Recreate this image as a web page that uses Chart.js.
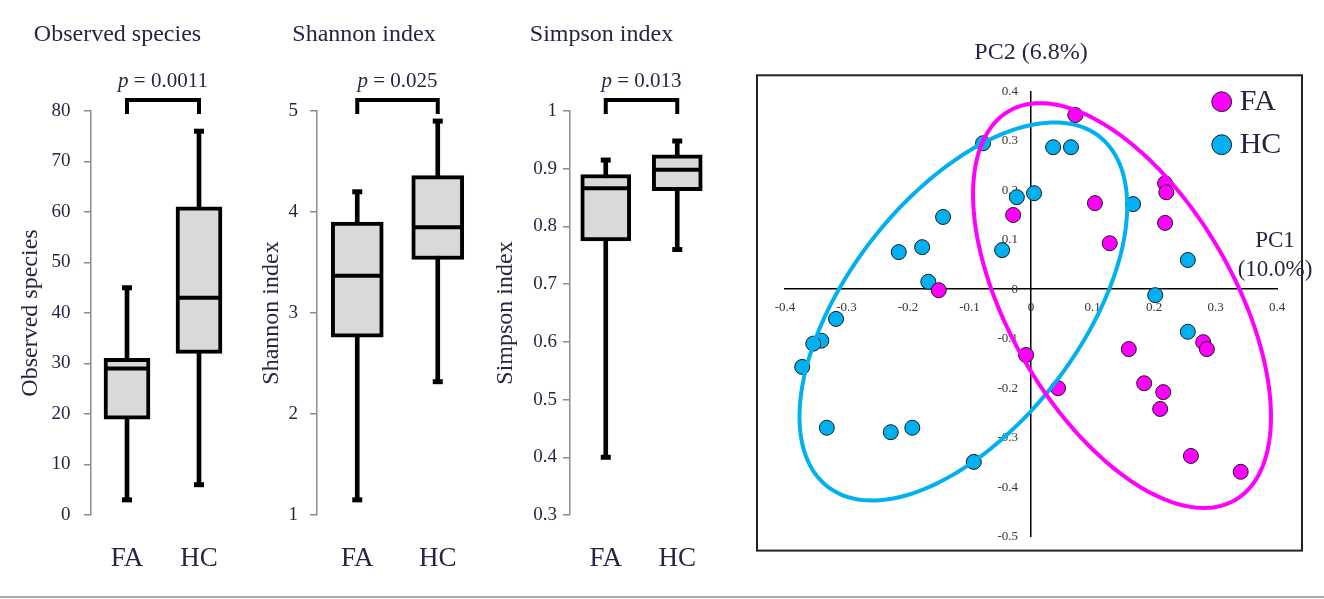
<!DOCTYPE html>
<html><head><meta charset="utf-8">
<script src="https://cdn.jsdelivr.net/npm/chart.js@4.4.1/dist/chart.umd.min.js"></script>
<style>
html,body{margin:0;padding:0;background:#fff;}
body{width:1324px;height:599px;position:relative;overflow:hidden;}
canvas{position:absolute;top:0;}
#bottomline{position:absolute;left:0;top:596px;width:1324px;height:2px;background:#a8a8a8;}
</style></head><body>
<canvas id="c1" width="320" height="599" style="left:0px;top:0px;width:320px;height:599px"></canvas>
<canvas id="c2" width="292" height="599" style="left:250px;top:0px;width:292px;height:599px"></canvas>
<canvas id="c3" width="274" height="599" style="left:490px;top:0px;width:274px;height:599px"></canvas>
<canvas id="c4" width="584" height="530" style="left:740px;top:30px;width:584px;height:530px"></canvas>
<div id="bottomline"></div>
<script>
// ---------- data ----------
const groups = ['FA', 'HC'];

const obsMin = [3, 6];
const obsQ1  = [19, 32];
const obsMed = [29, 43];
const obsQ3  = [31, 61];
const obsMax = [45, 76];

const shaMin = [1.15, 2.32];
const shaQ1  = [2.76, 3.53];
const shaMed = [3.37, 3.85];
const shaQ3  = [3.90, 4.36];
const shaMax = [4.20, 4.90];

const simMin = [0.40, 0.76];
const simQ1  = [0.775, 0.862];
const simMed = [0.866, 0.898];
const simQ3  = [0.890, 0.924];
const simMax = [0.915, 0.948];

const pValues = ['0.0011', '0.025', '0.013'];

// PCA scores
const faX = [0.072, 0.218, 0.220, 0.104, -0.029, 0.218, 0.128, -0.150, -0.008, 0.159, 0.044, 0.184, 0.215, 0.210, 0.280, 0.286, 0.260, 0.341];
const faY = [0.352, 0.214, 0.196, 0.174, 0.150, 0.134, 0.093, -0.002, -0.133, -0.121, -0.200, -0.190, -0.208, -0.242, -0.107, -0.121, -0.337, -0.369];
const hcX = [-0.078, 0.036, 0.065, -0.023, 0.005, -0.143, 0.166, -0.215, -0.177, -0.047, -0.167, 0.255, 0.202, -0.317, -0.341, -0.354, -0.372, -0.332, -0.228, -0.193, -0.093, 0.255];
const hcY = [0.295, 0.287, 0.287, 0.186, 0.194, 0.146, 0.172, 0.075, 0.085, 0.079, 0.015, 0.059, -0.012, -0.060, -0.104, -0.110, -0.157, -0.280, -0.289, -0.280, -0.349, -0.086];

// confidence ellipses: centre and two conjugate semi-axis vectors (data units)
const ellipseFA = [0.148, -0.033, 0.1841, -0.3929, -0.1574, -0.1138];
const ellipseHC = [-0.110, -0.045, 0.2208, 0.3539, 0.1491, -0.1439];

// ---------- styling ----------
const FONT = 'Liberation Serif';
const TXT = '#262644';
Chart.defaults.font.family = FONT;
const cleanNum = v => String(Number(Number(v).toFixed(2)));

function bracketPlugin(pText) {
  return {
    id: 'bracket',
    afterDraw(chart) {
      const {ctx, chartArea, scales: {x}} = chart;
      const x0 = x.getPixelForValue(0), x1 = x.getPixelForValue(1);
      const yTop = chartArea.top - 11, yLeg = chartArea.top + 3;
      ctx.save();
      ctx.strokeStyle = '#000'; ctx.lineWidth = 4; ctx.lineJoin = 'miter'; ctx.lineCap = 'butt';
      ctx.beginPath(); ctx.moveTo(x0, yLeg); ctx.lineTo(x0, yTop); ctx.lineTo(x1, yTop); ctx.lineTo(x1, yLeg); ctx.stroke();
      const ital = 'italic 21px "' + FONT + '"', norm = '21px "' + FONT + '"';
      ctx.font = ital; const wp = ctx.measureText('p').width;
      const rest = ' = ' + pText;
      ctx.font = norm; const wr = ctx.measureText(rest).width;
      const cx = (x0 + x1) / 2, sx = cx - (wp + wr) / 2, ty = chartArea.top - 29.3;
      ctx.textBaseline = 'middle'; ctx.textAlign = 'left'; ctx.fillStyle = TXT;
      ctx.font = ital; ctx.fillText('p', sx, ty);
      ctx.font = norm; ctx.fillText(rest, sx + wp, ty);
      ctx.restore();
    }
  };
}

function boxChart(id, c) {
  const pt = (data, r, bw) => ({
    type: 'line', data, showLine: false, pointStyle: 'line', pointRadius: r, pointHoverRadius: r,
    pointBorderColor: '#000', pointBorderWidth: bw, pointHoverBorderWidth: bw, order: 1
  });
  new Chart(document.getElementById(id), {
    type: 'bar',
    data: {
      labels: groups,
      datasets: [
        pt(c.med, c.box / 2 - 1, 4),
        pt(c.min, 5, 5),
        pt(c.max, 5, 5),
        {type: 'bar', data: groups.map((g, i) => [c.q1[i], c.q3[i]]), backgroundColor: '#d9d9d9', borderColor: '#000',
         borderWidth: 4, borderSkipped: false, barThickness: c.box, grouped: false, order: 2},
        {type: 'bar', data: groups.map((g, i) => [c.min[i], c.max[i]]), backgroundColor: '#000', borderWidth: 0,
         barThickness: 4, grouped: false, order: 3}
      ]
    },
    options: {
      responsive: false, animation: false, devicePixelRatio: 1,
      layout: {padding: {left: 0, right: c.padRight, top: 0, bottom: 0}},
      plugins: {
        legend: {display: false}, tooltip: {enabled: false},
        title: {display: true, text: c.title, font: {family: FONT, size: 24, weight: 'normal'}, color: TXT,
                padding: {top: 20.6, bottom: 61.6}}
      },
      scales: {
        x: {grid: {display: false, drawTicks: false}, border: {display: false},
            ticks: {font: {family: FONT, size: 27}, color: TXT, padding: 27.8},
            afterFit: s => { s.height = 84; }},
        y: {min: c.ymin, max: c.ymax,
            ticks: {stepSize: c.step, font: {family: FONT, size: 19}, color: TXT, padding: c.tickPad, callback: cleanNum},
            grid: {drawOnChartArea: false, drawTicks: true, tickLength: 7, color: '#8c8c8c', lineWidth: 1.5},
            border: {color: '#8c8c8c', width: 1.5},
            title: {display: true, text: c.title, font: {family: FONT, size: 24}, color: TXT, padding: {top: c.titlePad, bottom: 0}},
            afterFit: s => { s.width = c.axisW; }}
      }
    },
    plugins: [bracketPlugin(c.p)]
  });
}

boxChart('c1', {title: 'Observed species', min: obsMin, q1: obsQ1, med: obsMed, q3: obsQ3, max: obsMax,
  ymin: 0, ymax: 80, step: 10, box: 46, axisW: 91, padRight: 85, tickPad: 13.5, titlePad: 16.6, p: pValues[0]});
boxChart('c2', {title: 'Shannon index', min: shaMin, q1: shaQ1, med: shaMed, q3: shaQ3, max: shaMax,
  ymin: 1, ymax: 5, step: 1, box: 52, axisW: 67, padRight: 64, tickPad: 12, titlePad: 7, p: pValues[1]});
boxChart('c3', {title: 'Simpson index', min: simMin, q1: simQ1, med: simMed, q3: simQ3, max: simMax,
  ymin: 0.3, ymax: 1, step: 0.1, box: 50, axisW: 80, padRight: 51, tickPad: 6, titlePad: 1, p: pValues[2]});

// ---------- PCA ----------
const pcaPlugin = {
  id: 'pcaExtras',
  afterLayout(chart) {
    const lg = chart.legend, ca = chart.chartArea;
    lg.left = ca.left + 420.7; lg.top = ca.top - 17.6;
    lg.width = 115; lg.height = 115;
    lg.right = lg.left + lg.width; lg.bottom = lg.top + lg.height;
  },
  beforeDraw(chart) {
    const {ctx, chartArea: ca} = chart;
    ctx.save();
    ctx.strokeStyle = '#222'; ctx.lineWidth = 2;
    ctx.strokeRect(ca.left - 28, ca.top - 16, (ca.right + 25) - (ca.left - 28), (ca.bottom + 14) - (ca.top - 16));
    ctx.restore();
  },
  afterDatasetsDraw(chart) {
    const {ctx, scales: {x, y}} = chart;
    [[ellipseHC, '#00b0f0'], [ellipseFA, '#ff00ff']].forEach(([e, col]) => {
      ctx.save();
      ctx.beginPath();
      for (let k = 0; k <= 180; k++) {
        const t = k / 180 * 2 * Math.PI;
        const dx = e[0] + e[2] * Math.cos(t) + e[4] * Math.sin(t);
        const dy = e[1] + e[3] * Math.cos(t) + e[5] * Math.sin(t);
        const px = x.getPixelForValue(dx), py = y.getPixelForValue(dy);
        if (k) ctx.lineTo(px, py); else ctx.moveTo(px, py);
      }
      ctx.closePath();
      ctx.strokeStyle = col; ctx.lineWidth = 4; ctx.stroke();
      ctx.restore();
    });
  },
  afterDraw(chart) {
    const {ctx, scales: {x, y}} = chart;
    const xr = x.getPixelForValue(0.4) - 2, y0 = y.getPixelForValue(0);
    ctx.save();
    ctx.font = '23px "' + FONT + '"'; ctx.fillStyle = TXT; ctx.textAlign = 'center'; ctx.textBaseline = 'middle';
    ctx.fillText('PC1', xr, y0 - 47.8);
    ctx.fillText('(10.0%)', xr, y0 - 19);
    ctx.restore();
  }
};

new Chart(document.getElementById('c4'), {
  type: 'scatter',
  data: {
    datasets: [
      {label: 'FA', data: faX.map((v, i) => ({x: v, y: faY[i]})), pointRadius: 7.5, pointHoverRadius: 7.5,
       backgroundColor: '#ff00ff', borderColor: '#1a1a1a', borderWidth: 1, pointStyle: 'circle'},
      {label: 'HC', data: hcX.map((v, i) => ({x: v, y: hcY[i]})), pointRadius: 7.5, pointHoverRadius: 7.5,
       backgroundColor: '#00b0f0', borderColor: '#1a1a1a', borderWidth: 1, pointStyle: 'circle'}
    ]
  },
  options: {
    responsive: false, animation: false, devicePixelRatio: 1,
    layout: {padding: {left: 45, right: 47, top: 0, bottom: 23.4}},
    plugins: {
      tooltip: {enabled: false},
      title: {display: true, text: 'PC2 (6.8%)', font: {family: FONT, size: 24, weight: 'normal'}, color: TXT,
              padding: {top: 8.4, bottom: 24.1}},
      legend: {position: 'chartArea', align: 'start',
               labels: {usePointStyle: true, pointStyle: 'circle', boxWidth: 6, boxHeight: 14, padding: 13,
                        font: {family: FONT, size: 30}, color: TXT}}
    },
    scales: {
      x: {type: 'linear', position: {y: 0}, min: -0.4, max: 0.4,
          ticks: {stepSize: 0.1, font: {family: FONT, size: 13}, color: '#3d3228', padding: 10.2, callback: cleanNum},
          grid: {display: false, drawTicks: false}, border: {color: '#000', width: 1.5}},
      y: {type: 'linear', position: {x: 0}, min: -0.5, max: 0.4,
          ticks: {stepSize: 0.1, font: {family: FONT, size: 13}, color: '#3d3228',
                  callback: v => cleanNum(v) + '\u2002\u2002'},
          grid: {display: false, drawTicks: false}, border: {color: '#000', width: 1.5}}
    }
  },
  plugins: [pcaPlugin]
});
</script>
</body></html>
